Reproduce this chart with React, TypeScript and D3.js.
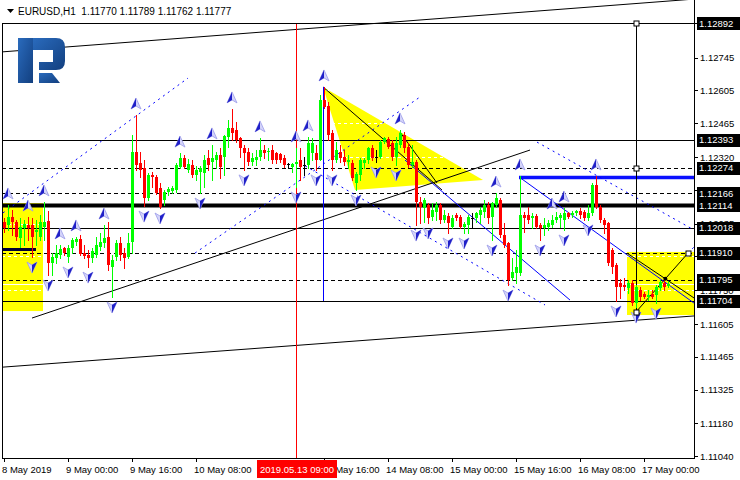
import * as d3 from "d3";
import { useEffect, useRef } from "react";

const symbol = "EURUSD,H1";

// hourly bars: open, high, low, close (first bar 8 May 08:00)
const ohlc: [number, number, number, number][] = [
  [1.12042, 1.12059, 1.11999, 1.12016], [1.12029, 1.12115, 1.12008, 1.12063], [1.12063, 1.12093, 1.11987, 1.12042],
  [1.12042, 1.12051, 1.11965, 1.11978], [1.11974, 1.12059, 1.11935, 1.12021], [1.12016, 1.12051, 1.11944, 1.12034],
  [1.12029, 1.12063, 1.11965, 1.12016], [1.12029, 1.12059, 1.11892, 1.11978], [1.11999, 1.12051, 1.11944, 1.12008],
  [1.11978, 1.12072, 1.11965, 1.12042], [1.12021, 1.12128, 1.11965, 1.12042], [1.12046, 1.12089, 1.11815, 1.11867],
  [1.11867, 1.11909, 1.11815, 1.11892], [1.11888, 1.11944, 1.11867, 1.11909], [1.11901, 1.11944, 1.11888, 1.11927],
  [1.11931, 1.11935, 1.11901, 1.11909], [1.11892, 1.11944, 1.11871, 1.11931], [1.11931, 1.11974, 1.11909, 1.11965],
  [1.11956, 1.11978, 1.11944, 1.11969], [1.11969, 1.11987, 1.11901, 1.11905], [1.11909, 1.11944, 1.11888, 1.11897],
  [1.11901, 1.11922, 1.11849, 1.11888], [1.11888, 1.11931, 1.11871, 1.11918], [1.11901, 1.11978, 1.11892, 1.11944],
  [1.11935, 1.11995, 1.11922, 1.11956], [1.11952, 1.12029, 1.11935, 1.11974], [1.11978, 1.12042, 1.11837, 1.11858],
  [1.11849, 1.11901, 1.11721, 1.11879], [1.11892, 1.11965, 1.11879, 1.11952], [1.11952, 1.11978, 1.11879, 1.11901],
  [1.11909, 1.11931, 1.11845, 1.11888], [1.11892, 1.11995, 1.11888, 1.11952], [1.11956, 1.12414, 1.11909, 1.12342],
  [1.12342, 1.125, 1.12265, 1.12286], [1.12295, 1.12342, 1.12235, 1.12265], [1.12273, 1.12307, 1.1211, 1.12145],
  [1.12145, 1.12252, 1.12136, 1.12243], [1.12243, 1.12256, 1.12192, 1.12235], [1.12235, 1.12243, 1.12162, 1.12166],
  [1.12188, 1.12209, 1.12102, 1.12106], [1.12136, 1.12179, 1.12115, 1.1217], [1.1217, 1.12192, 1.12158, 1.12183],
  [1.12175, 1.12196, 1.12166, 1.12188], [1.12179, 1.12295, 1.1217, 1.12286], [1.12277, 1.12337, 1.12273, 1.12316],
  [1.12316, 1.12329, 1.12273, 1.12277], [1.12265, 1.12312, 1.12256, 1.1229], [1.12286, 1.12307, 1.12235, 1.12243],
  [1.12243, 1.12282, 1.12222, 1.12265], [1.12256, 1.12282, 1.12166, 1.12273], [1.12252, 1.12329, 1.12192, 1.12307],
  [1.12316, 1.1235, 1.12265, 1.12286], [1.12299, 1.12372, 1.12222, 1.12316], [1.12307, 1.12342, 1.12273, 1.12329],
  [1.12329, 1.12359, 1.1223, 1.12277], [1.1232, 1.12414, 1.12243, 1.1241], [1.12406, 1.12479, 1.12363, 1.12444],
  [1.12444, 1.12526, 1.12393, 1.12423], [1.12436, 1.1247, 1.12384, 1.12393], [1.12402, 1.12406, 1.1232, 1.12359],
  [1.12359, 1.12372, 1.12265, 1.12337], [1.12342, 1.12359, 1.12286, 1.12299], [1.12299, 1.12337, 1.12286, 1.12316],
  [1.12307, 1.1235, 1.12286, 1.1232], [1.1232, 1.12402, 1.12307, 1.1235], [1.1235, 1.12372, 1.12316, 1.12337],
  [1.12342, 1.12359, 1.12307, 1.12346], [1.1235, 1.12372, 1.12295, 1.12307], [1.12337, 1.12342, 1.12295, 1.12307],
  [1.12333, 1.12337, 1.12299, 1.12307], [1.12316, 1.12329, 1.12277, 1.12286], [1.1229, 1.12295, 1.12273, 1.1229],
  [1.12277, 1.12295, 1.12256, 1.1229], [1.1229, 1.12359, 1.12192, 1.12299], [1.12307, 1.12359, 1.12222, 1.12277],
  [1.12286, 1.1232, 1.12243, 1.12286], [1.12286, 1.12406, 1.12273, 1.1238], [1.12337, 1.12402, 1.12307, 1.1238],
  [1.12337, 1.12372, 1.12265, 1.12307], [1.12307, 1.12586, 1.12307, 1.12564], [1.12564, 1.1262, 1.1253, 1.12534],
  [1.12539, 1.12556, 1.12393, 1.12414], [1.12423, 1.12436, 1.12265, 1.12307], [1.12307, 1.12384, 1.12299, 1.1235],
  [1.12342, 1.12372, 1.12299, 1.12316], [1.1232, 1.1235, 1.12286, 1.12299], [1.12299, 1.12329, 1.12273, 1.12307],
  [1.12295, 1.12307, 1.12222, 1.1223], [1.12209, 1.12256, 1.12179, 1.12248], [1.12243, 1.12316, 1.12222, 1.12307],
  [1.12295, 1.12316, 1.12273, 1.12307], [1.12307, 1.12363, 1.12295, 1.12359], [1.12359, 1.12372, 1.12307, 1.12316],
  [1.1232, 1.1235, 1.12299, 1.1232], [1.1232, 1.12393, 1.12316, 1.12384], [1.12384, 1.12406, 1.1238, 1.12402],
  [1.12397, 1.12406, 1.12359, 1.12363], [1.1238, 1.12393, 1.12307, 1.1232], [1.1232, 1.12406, 1.12286, 1.1238],
  [1.12372, 1.12436, 1.12363, 1.12423], [1.12414, 1.12427, 1.12342, 1.12359], [1.12363, 1.1238, 1.12277, 1.12286],
  [1.12286, 1.12372, 1.12277, 1.12299], [1.12299, 1.12307, 1.12029, 1.12128], [1.12128, 1.12149, 1.12038, 1.12106],
  [1.12102, 1.12145, 1.12042, 1.12136], [1.12115, 1.12123, 1.12038, 1.12059], [1.12063, 1.12123, 1.12051, 1.12093],
  [1.12085, 1.12128, 1.12051, 1.12115], [1.12115, 1.12123, 1.12038, 1.12051], [1.12051, 1.12093, 1.12042, 1.12072],
  [1.12068, 1.1208, 1.11995, 1.12038], [1.12021, 1.12072, 1.12016, 1.12059], [1.12072, 1.1208, 1.12051, 1.12059],
  [1.12063, 1.12072, 1.12016, 1.12021], [1.12021, 1.12042, 1.11995, 1.12034], [1.12029, 1.12072, 1.11995, 1.12063],
  [1.12059, 1.1208, 1.12016, 1.12059], [1.12059, 1.12085, 1.12042, 1.1208], [1.12072, 1.12106, 1.12038, 1.12093],
  [1.12085, 1.12136, 1.12063, 1.12115], [1.12115, 1.12128, 1.12038, 1.12059], [1.12063, 1.12128, 1.11965, 1.12123],
  [1.12115, 1.12166, 1.12106, 1.12145], [1.12136, 1.12145, 1.11978, 1.11987], [1.11987, 1.12038, 1.11935, 1.11944],
  [1.11952, 1.11956, 1.11772, 1.11794], [1.11802, 1.11888, 1.11794, 1.11828], [1.11824, 1.11922, 1.11781, 1.11849],
  [1.11824, 1.12239, 1.11815, 1.12072], [1.12072, 1.12085, 1.11999, 1.12059], [1.12072, 1.12106, 1.12038, 1.12051],
  [1.12059, 1.1208, 1.12016, 1.12068], [1.12068, 1.12076, 1.12016, 1.12021], [1.12029, 1.12038, 1.11965, 1.12016],
  [1.12016, 1.12059, 1.11987, 1.12029], [1.12021, 1.12051, 1.12008, 1.12038], [1.12029, 1.12072, 1.12021, 1.12051],
  [1.12051, 1.12085, 1.12042, 1.12063], [1.12059, 1.1208, 1.12021, 1.12072], [1.12051, 1.12102, 1.12008, 1.1208],
  [1.1208, 1.12085, 1.12059, 1.12063], [1.12072, 1.12089, 1.12063, 1.1208], [1.1208, 1.12093, 1.12072, 1.12089],
  [1.12089, 1.12102, 1.12059, 1.12072], [1.12085, 1.12093, 1.12051, 1.12059], [1.12059, 1.12115, 1.12051, 1.1208],
  [1.1208, 1.12209, 1.12072, 1.122], [1.122, 1.12239, 1.12102, 1.12106], [1.12106, 1.12115, 1.12042, 1.12051],
  [1.12051, 1.12059, 1.11995, 1.12029], [1.12038, 1.12042, 1.11858, 1.11867], [1.11922, 1.11931, 1.11824, 1.11849],
  [1.11858, 1.11867, 1.11704, 1.11764], [1.11781, 1.11798, 1.11717, 1.11764], [1.11772, 1.11802, 1.11751, 1.11764],
  [1.1176, 1.11794, 1.11738, 1.11781], [1.11781, 1.11794, 1.11687, 1.11695], [1.11695, 1.11772, 1.11678, 1.11764],
  [1.11751, 1.11764, 1.11708, 1.11721], [1.11734, 1.11742, 1.11717, 1.11721], [1.11721, 1.11751, 1.11708, 1.1173],
  [1.11734, 1.11751, 1.11717, 1.11721], [1.1173, 1.11772, 1.11695, 1.11764], [1.1176, 1.11794, 1.11751, 1.11785],
  [1.11781, 1.11802, 1.11751, 1.11764], [1.1177, 1.11789, 1.11762, 1.11777],
];

// "13 May 00:00" sits under the cursor box and is not shown
const xLabels: [number, string][] = [
  [0, "8 May 2019"], [16, "9 May 00:00"], [32, "9 May 16:00"], [48, "10 May 08:00"],
  [80, "13 May 16:00"], [96, "14 May 08:00"], [112, "15 May 00:00"],
  [128, "15 May 16:00"], [144, "16 May 08:00"], [160, "17 May 00:00"],
];
const cursorBar = 73;
const cursorLabel = "2019.05.13 09:00";

const priceTicks = [1.12892, 1.12745, 1.12605, 1.12465, 1.1232, 1.1218, 1.12035, 1.11895, 1.1175, 1.11605, 1.11465, 1.11325, 1.1118, 1.1104];
const solidLevels = [1.12892, 1.12393, 1.12018, 1.11704];
const dashedLevels = [1.12274, 1.12166, 1.1191, 1.11795];
const thickLevel = 1.12114;

const upFractals = [1, 6, 10, 14, 18, 25, 33, 44, 52, 57, 64, 73, 76, 80, 99, 123, 129, 137, 140, 148];
const downFractals = [7, 11, 16, 21, 27, 35, 39, 49, 60, 73, 78, 82, 88, 93, 98, 103, 106, 111, 115, 122, 126, 134, 140, 146, 153, 158, 163];

// drawn objects, anchored as [bar, price, bar, price]
const blackTrends = [
  [-0.5, 1.1277, 172.5, 1.12996],
  [-0.25, 1.11421, 172.5, 1.1164],
  [7, 1.11631, 131.5, 1.1235],
  [79.75, 1.1262, 109.5, 1.12179],
  [99, 1.12427, 108.25, 1.12209],
  [155.75, 1.11909, 172.5, 1.11717],
  [158, 1.11657, 171, 1.11909],
];
const blueDotted = [
  [-0.25, 1.12081, 46, 1.12658],
  [47.75, 1.11909, 104, 1.12577],
  [74, 1.12295, 135.25, 1.11687],
  [133.25, 1.12384, 172.5, 1.12008],
  [171, 1.11909, 172.5, 1.11935],
];
const blueSolid = [
  [100.25, 1.12307, 141.5, 1.11708],
  [128.75, 1.12235, 172.5, 1.11695],
];
const zones = [
  [-0.5, 1.12123, 9.75, 1.11661],
  [155.75, 1.11914, 172.5, 1.11644],
];
const triangle = [[79.75, 1.1262], [119.75, 1.12222], [87.75, 1.12179]];
const navySegment = [-0.5, 1.11927, 8, 1.11927];
const blueSegment = [128.75, 1.12235, 172.5, 1.12235];
const blueVertical = [80, 1.1262, 1.11704];
const blackVertical = [158, 1.12892, 1.11657];
const anchors = [[158, 1.12892], [158, 1.12274], [158, 1.11657], [171, 1.11909]];

const FONT = "'Liberation Sans', Arial, sans-serif";

export default function App() {
  const ref = useRef<SVGSVGElement>(null);

  useEffect(() => {
    const svg = d3.select(ref.current);
    svg.selectAll("*").remove();

    const x = d3.scaleLinear().domain([0, ohlc.length - 1]).range([4, 668]);
    const y = d3.scaleLinear().domain([1.110321, 1.129921]).range([458, 0]);
    const L = 2, R = 694, B = 458;
    const last = ohlc[ohlc.length - 1];

    svg.append("rect").attr("width", 740).attr("height", 480).attr("fill", "#fff");
    const defs = svg.append("defs");
    defs.append("clipPath").attr("id", "plot").append("rect")
      .attr("x", L).attr("y", 0).attr("width", R - L).attr("height", B);
    const lg = defs.append("linearGradient").attr("id", "logo").attr("x1", 0).attr("x2", 1).attr("y1", 0).attr("y2", 1);
    lg.append("stop").attr("offset", 0).attr("stop-color", "#2a6bbd");
    lg.append("stop").attr("offset", 1).attr("stop-color", "#123f7f");

    const g = svg.append("g").attr("clip-path", "url(#plot)");
    const px = (v: number) => Math.round(y(v)) + 0.5;

    // filled objects
    g.selectAll(".zone").data(zones).join("rect")
      .attr("x", (d) => x(d[0])).attr("y", (d) => y(d[1]))
      .attr("width", (d) => x(d[2]) - x(d[0])).attr("height", (d) => y(d[3]) - y(d[1]))
      .attr("fill", "#ffff00");
    g.append("polygon")
      .attr("points", triangle.map((d) => `${x(d[0])},${y(d[1])}`).join(" "))
      .attr("fill", "#ffff00");

    // grid (white, only visible over filled objects)
    g.selectAll(".grid").data(priceTicks).join("line")
      .attr("x1", L).attr("x2", R).attr("y1", px).attr("y2", px)
      .attr("stroke", "#fff").attr("stroke-dasharray", "3,3");
    g.append("line").attr("x1", L).attr("x2", R).attr("y1", px(last[3])).attr("y2", px(last[3]))
      .attr("stroke", "#fff");

    // horizontal levels
    g.selectAll(".solid").data(solidLevels).join("line")
      .attr("x1", L).attr("x2", R).attr("y1", px).attr("y2", px).attr("stroke", "#000");
    g.selectAll(".dash").data(dashedLevels).join("line")
      .attr("x1", L).attr("x2", R).attr("y1", px).attr("y2", px)
      .attr("stroke", "#000").attr("stroke-dasharray", "4,3");
    g.append("line").attr("x1", L).attr("x2", R).attr("y1", px(thickLevel)).attr("y2", px(thickLevel))
      .attr("stroke", "#000").attr("stroke-width", 4);
    g.append("line").attr("x1", x(navySegment[0])).attr("x2", x(navySegment[2]))
      .attr("y1", px(navySegment[1])).attr("y2", px(navySegment[3]))
      .attr("stroke", "#000033").attr("stroke-width", 3);
    g.append("line").attr("x1", x(blueSegment[0])).attr("x2", x(blueSegment[2]))
      .attr("y1", px(blueSegment[1])).attr("y2", px(blueSegment[3]))
      .attr("stroke", "#0a10ff").attr("stroke-width", 3.5);

    const seg = (sel: any) => sel
      .attr("x1", (d: number[]) => x(d[0])).attr("y1", (d: number[]) => y(d[1]))
      .attr("x2", (d: number[]) => x(d[2])).attr("y2", (d: number[]) => y(d[3]));
    seg(g.selectAll(".bt").data(blackTrends).join("line")).attr("stroke", "#000").attr("stroke-width", 1);
    seg(g.selectAll(".bd").data(blueDotted).join("line")).attr("stroke", "#0000ff")
      .attr("stroke-width", 1).attr("stroke-dasharray", "2,4");
    seg(g.selectAll(".bs").data(blueSolid).join("line")).attr("stroke", "#0000ff").attr("stroke-width", 1);

    // vertical lines
    const cx = Math.round(x(cursorBar)) + 0.5;
    g.append("line").attr("x1", cx).attr("x2", cx).attr("y1", 24).attr("y2", B).attr("stroke", "#ff0000");
    const bx = Math.round(x(blueVertical[0])) - 0.5;
    g.append("line").attr("x1", bx).attr("x2", bx).attr("y1", y(blueVertical[1])).attr("y2", y(blueVertical[2]))
      .attr("stroke", "#0000ff");
    const kx = Math.round(x(blackVertical[0])) + 0.5;
    g.append("line").attr("x1", kx).attr("x2", kx).attr("y1", y(blackVertical[1])).attr("y2", y(blackVertical[2]))
      .attr("stroke", "#000");

    // candles
    const c = g.selectAll(".candle").data(ohlc).join("g");
    const col = (d: number[]) => (d[3] > d[0] ? "#00ff00" : d[3] < d[0] ? "#ff0000" : "#000");
    c.append("line")
      .attr("x1", (_, i) => Math.round(x(i)) + 0.5).attr("x2", (_, i) => Math.round(x(i)) + 0.5)
      .attr("y1", (d) => Math.round(y(d[1]))).attr("y2", (d) => Math.round(y(d[2])) + 1)
      .attr("stroke", col);
    c.append("rect")
      .attr("x", (_, i) => Math.round(x(i)) - 1).attr("width", 3)
      .attr("y", (d) => Math.round(y(Math.max(d[0], d[3]))))
      .attr("height", (d) => Math.max(1, Math.round(Math.abs(y(d[0]) - y(d[3])))))
      .attr("fill", col);

    // fractal arrows
    upFractals.forEach((i) => {
      const X = x(i), Y = y(ohlc[i][1]) - 11;
      g.append("path").attr("d", `M${X},${Y - 6}L${X + 5},${Y + 5}L${X},${Y + 2}L${X - 5},${Y + 5}Z`)
        .attr("fill", "#d4d4fa").attr("stroke", "#9a9ae8").attr("stroke-width", 0.8);
      g.append("path").attr("d", `M${X},${Y - 6}L${X},${Y + 2}L${X - 5},${Y + 5}Z`).attr("fill", "#2020c8");
    });
    downFractals.forEach((i) => {
      const X = x(i), Y = y(ohlc[i][2]) + 10;
      g.append("path").attr("d", `M${X},${Y + 6}L${X + 5},${Y - 5}L${X},${Y - 2}L${X - 5},${Y - 5}Z`)
        .attr("fill", "#d4d4fa").attr("stroke", "#9a9ae8").attr("stroke-width", 0.8);
      g.append("path").attr("d", `M${X},${Y + 6}L${X},${Y - 2}L${X + 5},${Y - 5}Z`).attr("fill", "#2020c8");
    });

    // anchor squares and the crossing point
    g.selectAll(".anchor").data(anchors).join("rect")
      .attr("x", (d) => Math.round(x(d[0])) - 2).attr("y", (d) => Math.round(y(d[1])) - 2)
      .attr("width", 5).attr("height", 5).attr("fill", "#fff").attr("stroke", "#000");
    const [a, b] = [blackTrends[5], blackTrends[6]];
    const s1 = (a[3] - a[1]) / (a[2] - a[0]), s2 = (b[3] - b[1]) / (b[2] - b[0]);
    const xi = (b[1] - a[1] + s1 * a[0] - s2 * b[0]) / (s1 - s2);
    g.append("circle").attr("cx", x(xi)).attr("cy", y(a[1] + s1 * (xi - a[0]))).attr("r", 2).attr("fill", "#000");

    // frame
    svg.append("line").attr("x1", L + 0.5).attr("x2", L + 0.5).attr("y1", 24).attr("y2", B).attr("stroke", "#000");
    svg.append("line").attr("x1", R + 0.5).attr("x2", R + 0.5).attr("y1", 0).attr("y2", B + 1).attr("stroke", "#000");
    svg.append("line").attr("x1", L).attr("x2", R + 1).attr("y1", B + 0.5).attr("y2", B + 0.5).attr("stroke", "#000");

    // price axis
    const ax = svg.append("g").attr("font-family", FONT).attr("font-size", 9.5);
    priceTicks.forEach((p) => {
      ax.append("line").attr("x1", R).attr("x2", R + 4).attr("y1", px(p)).attr("y2", px(p)).attr("stroke", "#000");
      ax.append("text").attr("x", R + 6).attr("y", y(p) + 3.5).text(p.toFixed(5));
    });
    const boxes = [last[3], 1.12892, 1.12393, 1.12274, 1.12166, 1.12114, 1.12018, 1.1191, 1.11795, 1.11704];
    boxes.forEach((p) => {
      ax.append("rect").attr("x", R + 3).attr("y", Math.round(y(p)) - 6).attr("width", 43).attr("height", 13).attr("fill", "#000");
      ax.append("text").attr("x", R + 5).attr("y", y(p) + 3.5).attr("fill", "#fff").text(p.toFixed(5));
    });

    // time axis
    const tx = svg.append("g").attr("font-family", FONT).attr("font-size", 9.5);
    xLabels.forEach(([i, t]) => {
      const X = Math.round(x(i)) + 0.5;
      tx.append("line").attr("x1", X).attr("x2", X).attr("y1", B).attr("y2", B + 4).attr("stroke", "#000");
      tx.append("text").attr("x", x(i) - 2).attr("y", 473).text(t);
    });
    tx.append("rect").attr("x", x(cursorBar) - 39).attr("y", 460).attr("width", 80).attr("height", 18).attr("fill", "#ff0000");
    tx.append("text").attr("x", x(cursorBar) + 1).attr("y", 473).attr("text-anchor", "middle").attr("fill", "#fff").text(cursorLabel);

    // title
    svg.append("path").attr("d", "M7,9H14L10.5,13Z").attr("fill", "#000");
    svg.append("text").attr("x", 18).attr("y", 15).attr("font-family", FONT).attr("font-size", 10)
      .attr("xml:space", "preserve")
      .text(`${symbol}  ${last.map((v) => v.toFixed(5)).join(" ")}`);

    // logo
    const logo = svg.append("g").attr("fill", "url(#logo)");
    logo.append("path").attr("d", "M18,38H33V83H18Z");
    logo.append("path").attr("d", "M33,38H56Q65,38 65,47V61Q65,70 56,70H39V62H53V50H33Z");
    logo.append("path").attr("d", "M39,73H52L60,83H39Z");
  }, []);

  return (
    <svg ref={ref} width={740} height={480}
      style={{ position: "absolute", left: 0, top: 0, display: "block" }} />
  );
}
